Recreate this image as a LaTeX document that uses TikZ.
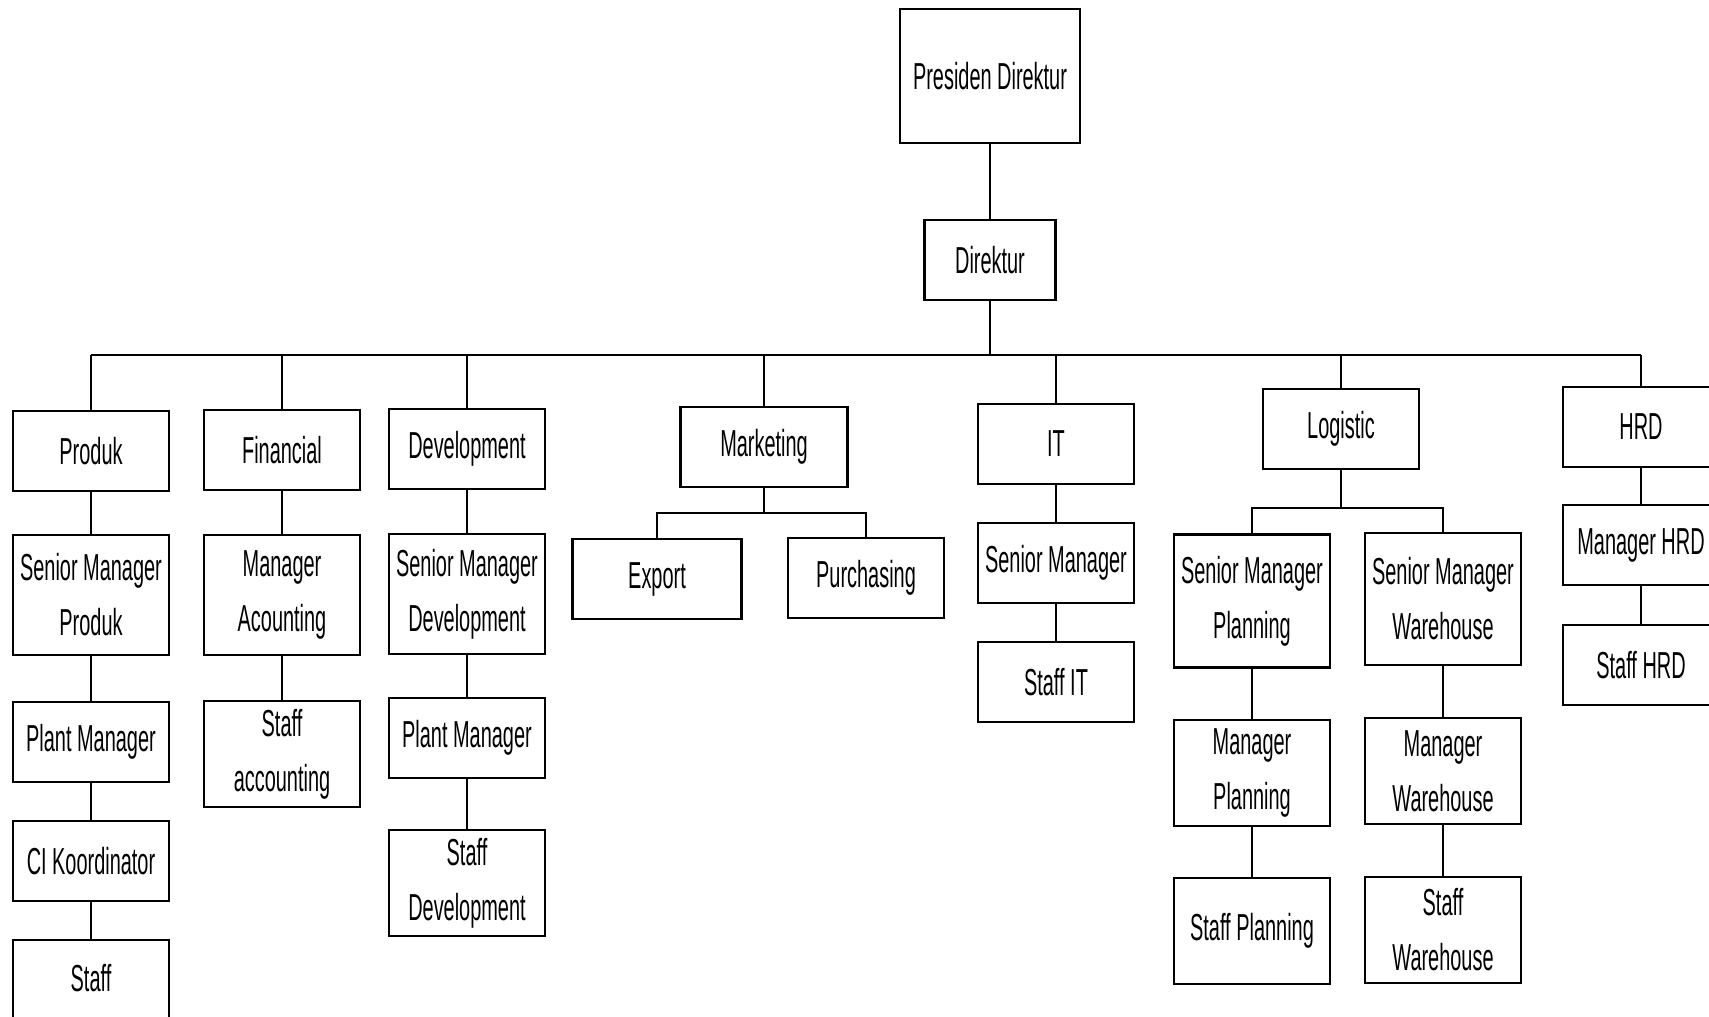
\documentclass[tikz,border=0pt]{standalone}
\usepackage{fontspec}
\setmainfont[FakeStretch=0.53]{Liberation Sans}
\usetikzlibrary{positioning,calc}
\tikzset{font=\fontsize{18.8}{27.5}\selectfont}

\begin{document}
\begin{tikzpicture}[x=0.5pt, y=-0.5pt, line width=1.2pt]
	\useasboundingbox (0,0) rectangle (1709,1017);
	\clip (0,0) rectangle (1709,1017);
	\coordinate (bus) at (990,355);
	\coordinate (mbus) at (764,513);
	\coordinate (lbus) at (1341,508);
	\begin{scope}
		\tikzstyle{every node}=[draw, align=center, inner sep=1pt, minimum width=78pt, minimum height=40pt]
		\tikzstyle{twoline}=[minimum height=53pt]
		\tikzstyle{senior}=[minimum height=60pt]
		\node[minimum width=90pt, minimum height=67pt] (pd) at (990,76) {Presiden Direktur};
		\node[minimum width=65.5pt] (dir) at (990,260) {Direktur};

		\node (produk) at (91,451) {Produk};
		\node (fin) at (282,450) {Financial};
		\node (dev) at (467,449) {Development};
		\node[minimum width=83.5pt] (mkt) at (764,447) {Marketing};
		\node (it) at (1056,444) {IT};
		\node (log) at (1341,429) {Logistic};
		\node (hrd) at (1641,427) {HRD};

		\node[senior] (smprod) at (91,595) {Senior Manager\\Produk};
		\node[senior] (macc) at (282,595) {Manager\\Acounting};
		\node[senior] (smdev) at (467,594) {Senior Manager\\Development};
		\node[minimum width=84.5pt] (exp) at (657,579) {Export};
		\node (pur) at (866,578) {Purchasing};
		\node (smit) at (1056,563) {Senior Manager};
		\node[minimum height=66.5pt] (smplan) at (1252,601) {Senior Manager\\Planning};
		\node[minimum height=66pt] (smware) at (1443,599) {Senior Manager\\Warehouse};
		\node (mhrd) at (1641,545) {Manager HRD};

		\node (pm1) at (91,742) {Plant Manager};
		\node[twoline] (sacc) at (282,754) {Staff\\accounting};
		\node (pm2) at (467,738) {Plant Manager};
		\node (sit) at (1056,682) {Staff IT};
		\node[twoline] (mplan) at (1252,773) {Manager\\Planning};
		\node[twoline] (mware) at (1443,771) {Manager\\Warehouse};
		\node (shrd) at (1641,665) {Staff HRD};

		\node (ci) at (91,861) {CI Koordinator};
		\node[twoline] (sdev) at (467,883) {Staff\\Development};
		\node[twoline] (splan) at (1252,931) {Staff Planning};
		\node[twoline] (sware) at (1443,930) {Staff\\Warehouse};

		\node[minimum height=66pt] (sprod) at (91,1006) {Staff\\\phantom{Produk}};
	\end{scope}

	\draw [] (pd) to (dir);
	\draw [] (dir) to (bus);
	\draw [] (produk.north |- bus) to (hrd.north |- bus);
	\foreach \d in {produk,fin,dev,mkt,it,log,hrd}
		\draw [] (\d) to (\d.north |- bus);

	\draw [] (produk) -- (smprod) -- (pm1) -- (ci) -- (sprod);
	\draw [] (fin) -- (macc) -- (sacc);
	\draw [] (dev) -- (smdev) -- (pm2) -- (sdev);
	\draw [] (mkt) to (mbus);
	\draw [] (exp) |- (mbus) -| (pur);
	\draw [] (it) -- (smit) -- (sit);
	\draw [] (log) to (lbus);
	\draw [] (smplan) |- (lbus) -| (smware);
	\draw [] (smplan) -- (mplan) -- (splan);
	\draw [] (smware) -- (mware) -- (sware);
	\draw [] (hrd) -- (mhrd) -- (shrd);
\end{tikzpicture}
\end{document}
